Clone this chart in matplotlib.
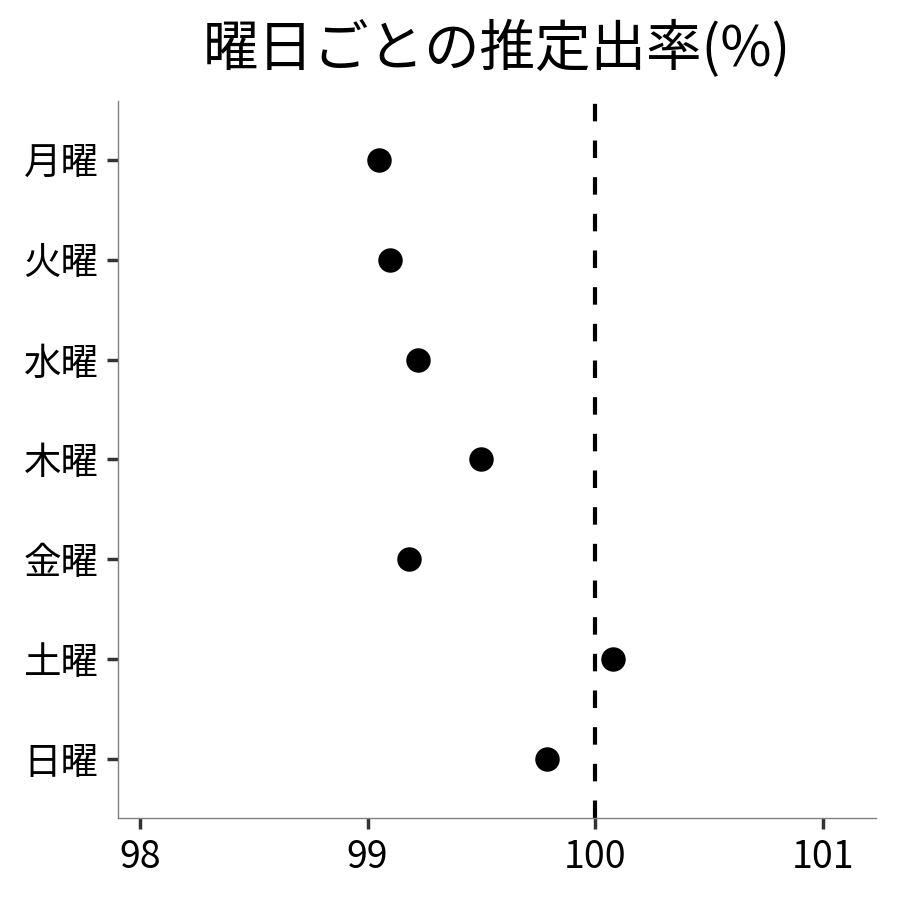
import matplotlib
matplotlib.use("Agg")
import matplotlib.pyplot as plt

plt.rcParams['font.family'] = ['Noto Sans CJK JP', 'DejaVu Sans']

days = ['月曜', '火曜', '水曜', '木曜', '金曜', '土曜', '日曜']
rates = [99.05, 99.10, 99.22, 99.50, 99.18, 100.08, 99.79]
x_ticks = [98, 99, 100, 101]
ref_value = 100

fig = plt.figure(figsize=(9, 9), dpi=100)
ax = fig.add_axes([0.131, 0.091, 0.842, 0.797])

pos = list(range(len(days)))
ax.scatter(rates, pos, s=310, color='black', zorder=3, linewidths=0)
ax.axvline(ref_value, color='black', linewidth=3.0, dashes=(4.2, 4.6), zorder=2)

ax.set_xlim(97.903, 101.232)
ax.set_ylim(len(days) - 0.41, -0.59)
ax.set_yticks(pos)
ax.set_yticklabels(days)
ax.set_xticks(x_ticks)

for s in ['top', 'right']:
    ax.spines[s].set_visible(False)
for s in ['left', 'bottom']:
    ax.spines[s].set_color('#808080')
    ax.spines[s].set_linewidth(1.0)

ax.tick_params(axis='both', length=8, width=2.5, color='#333333',
               labelsize=27, labelcolor='black', pad=6)

ax.set_title('曜日ごとの推定出率(%)', fontsize=40, pad=25)

fig.savefig('out.png', dpi=100)
